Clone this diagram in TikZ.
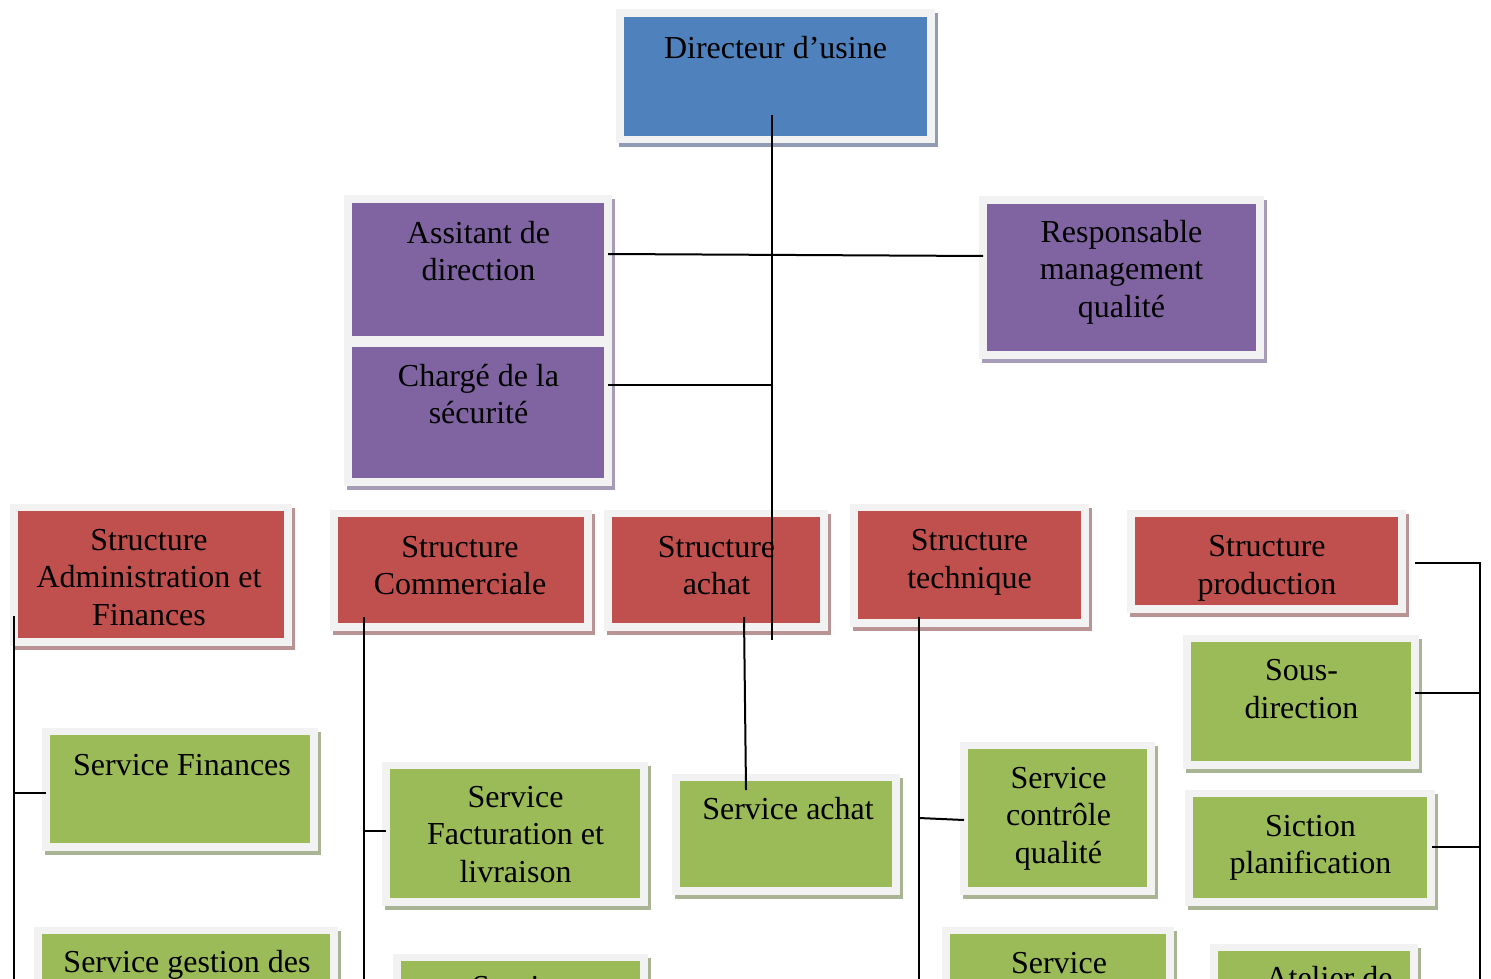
\documentclass[tikz,border=0pt]{standalone}
\usepackage{fontspec}
\setmainfont{Liberation Serif}
\usetikzlibrary{fit}
\definecolor{cblue}{RGB}{79,129,189}
\definecolor{cpurple}{RGB}{128,100,162}
\definecolor{cred}{RGB}{192,80,77}
\definecolor{cgreen}{RGB}{155,187,89}
\definecolor{cframe}{RGB}{242,242,242}
\definecolor{sblue}{RGB}{143,156,180}
\definecolor{spurple}{RGB}{166,156,184}
\definecolor{sred}{RGB}{186,148,148}
\definecolor{sgreen}{RGB}{168,180,148}
\newcommand\obox[7]{%
  \fill[#7] (#2-5,#3-3.5) rectangle (#4+10.5,#5+11.5);
  \node[boxframe, fit={(#2-8,#3-7.5) (#4+7.5,#5+7.5)}] (#1) {};
  \fill[#6] (#2,#3) rectangle (#4,#5);
}
\begin{document}
\begin{tikzpicture}[x=0.5pt,y=-0.5pt,
  boxframe/.style={inner sep=0pt, outer sep=0pt, fill=cframe},
  lbl/.style={inner sep=0pt, align=center, font=\fontsize{16pt}{18.6pt}\selectfont},
  conn/.style={line width=1pt, black}]
\useasboundingbox (0,0) rectangle (1491,978);
\clip (0,0) rectangle (1491,978);
\fill[white] (0,0) rectangle (1491,978);

% boxes
\obox{dir}{624}{17}{927}{136}{cblue}{sblue}
\obox{asst}{352}{203}{604}{336}{cpurple}{spurple}
\obox{charge}{352}{347}{604}{478}{cpurple}{spurple}
\obox{resp}{987}{204}{1256}{351}{cpurple}{spurple}
\obox{admin}{18}{511}{284}{638}{cred}{sred}
\obox{comm}{338}{517}{584}{623}{cred}{sred}
\obox{sach}{612}{517}{820}{623}{cred}{sred}
\obox{tech}{858}{511}{1081}{619}{cred}{sred}
\obox{prod}{1135}{517}{1398}{605}{cred}{sred}
\obox{sous}{1191}{642}{1411}{761}{cgreen}{sgreen}
\obox{sict}{1193}{797}{1427}{898}{cgreen}{sgreen}
\obox{sfin}{50}{735}{310}{843}{cgreen}{sgreen}
\obox{fact}{390}{769}{640}{898}{cgreen}{sgreen}
\obox{serach}{680}{781}{892}{887}{cgreen}{sgreen}
\obox{ctrl}{968}{749}{1147}{887}{cgreen}{sgreen}
\obox{gest}{42}{934}{330}{1060}{cgreen}{sgreen}
\obox{serv2}{401}{961}{640}{1060}{cgreen}{sgreen}
\obox{serv3}{950}{934}{1166}{1060}{cgreen}{sgreen}
\obox{atel}{1218}{951}{1410}{1060}{cgreen}{sgreen}

% texts
\node[lbl] (dir-t) at (775.5,50.7) {\strut Directeur d’usine};
\node[lbl] (asst-t) at (478.5,254.5) {\strut Assitant de\\\strut direction};
\node[lbl] (charge-t) at (478.5,397.5) {\strut Chargé de la\\\strut sécurité};
\node[lbl] (resp-t) at (1121.5,272.5) {\strut Responsable\\\strut management\\\strut qualité};
\node[lbl] (admin-t) at (149,580.5) {\strut Structure\\\strut Administration et\\\strut Finances};
\node[lbl] (comm-t) at (460,568.5) {\strut Structure\\\strut Commerciale};
\node[lbl] (sach-t) at (716.5,568.5) {\strut Structure\\\strut achat};
\node[lbl] (tech-t) at (969.5,562) {\strut Structure\\\strut technique};
\node[lbl] (prod-t) at (1267,568) {\strut Structure\\\strut production};
\node[lbl] (sous-t) at (1301.5,692) {\strut Sous-\\\strut direction};
\node[lbl] (sict-t) at (1310.5,847.5) {\strut Siction\\\strut planification};
\node[lbl] (sfin-t) at (182,767.7) {\strut Service Finances};
\node[lbl] (fact-t) at (515.5,837.5) {\strut Service\\\strut Facturation et\\\strut livraison};
\node[lbl] (serach-t) at (788,811.7) {\strut Service achat};
\node[lbl] (ctrl-t) at (1058.5,818.5) {\strut Service\\\strut contrôle\\\strut qualité};
\node[lbl] (gest-t) at (187,965.4) {\strut Service gestion des};
\node[lbl] (serv2-t) at (520,990) {\strut Service};
\node[lbl] (serv3-t) at (1059,966) {\strut Service};
\node[lbl] (atel-t) at (1329,981) {\strut Atelier de};

% connector end points
\coordinate (m-top) at (772,115);
\coordinate (m-bot) at (772,640);
\coordinate (m-asst) at (608,254);
\coordinate (m-resp) at (983,256);
\coordinate (m-charge) at (608,385);
\coordinate (m-chargeJ) at (772,385);
\coordinate (a-top) at (14,616);
\coordinate (a-bot) at (14,1000);
\coordinate (a-j1) at (14,793);
\coordinate (a-e1) at (46,793);
\coordinate (c-top) at (364,617);
\coordinate (c-bot) at (364,1000);
\coordinate (c-j1) at (364,831);
\coordinate (c-e1) at (386,831);
\coordinate (s-top) at (744,617);
\coordinate (s-e1) at (746,790);
\coordinate (t-top) at (919,617);
\coordinate (t-bot) at (919,1000);
\coordinate (t-j1) at (919,818);
\coordinate (t-e1) at (964,820);
\coordinate (p-start) at (1415,563);
\coordinate (p-corner) at (1480,563);
\coordinate (p-bot) at (1480,1000);
\coordinate (p-e1) at (1415,693);
\coordinate (p-j1) at (1480,693);
\coordinate (p-e2) at (1432,847);
\coordinate (p-j2) at (1480,847);

% connectors
\draw[conn] (m-top) -- (m-bot);
\draw[conn] (m-asst) -- (m-resp);
\draw[conn] (m-charge) -- (m-chargeJ);
\draw[conn] (a-top) -- (a-bot);
\draw[conn] (a-j1) -- (a-e1);
\draw[conn] (c-top) -- (c-bot);
\draw[conn] (c-j1) -- (c-e1);
\draw[conn] (s-top) -- (s-e1);
\draw[conn] (t-top) -- (t-bot);
\draw[conn] (t-j1) -- (t-e1);
\draw[conn] (p-start) -- (p-corner) -- (p-bot);
\draw[conn] (p-e1) -- (p-j1);
\draw[conn] (p-e2) -- (p-j2);
\end{tikzpicture}
\end{document}
